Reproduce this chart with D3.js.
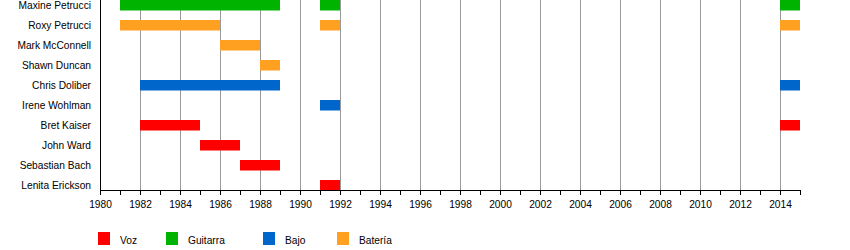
<!DOCTYPE html>
<html>
<head>
<meta charset="utf-8">
<script src="https://cdn.jsdelivr.net/npm/d3@7"></script>
<style>
  body { margin: 0; background: #fff; }
  svg { display: block; font-family: "Liberation Sans", Arial, sans-serif; }
</style>
</head>
<body>
<div id="chart"></div>
<script>
// members, top to bottom
const members = ["Maxine Petrucci", "Roxy Petrucci", "Mark McConnell", "Shawn Duncan",
  "Chris Doliber", "Irene Wohlman", "Bret Kaiser", "John Ward", "Sebastian Bach", "Lenita Erickson"];

// roles and their colours
const roles = ["Voz", "Guitarra", "Bajo", "Batería"];
const roleColors = ["#ff0000", "#00b300", "#0066cc", "#ffa020"];

// periods: [member, role, from, to]
const periods = [
  ["Maxine Petrucci", "Guitarra", 1981, 1989],
  ["Maxine Petrucci", "Guitarra", 1991, 1992],
  ["Maxine Petrucci", "Guitarra", 2014, 2015],
  ["Roxy Petrucci", "Batería", 1981, 1986],
  ["Roxy Petrucci", "Batería", 1991, 1992],
  ["Roxy Petrucci", "Batería", 2014, 2015],
  ["Mark McConnell", "Batería", 1986, 1988],
  ["Shawn Duncan", "Batería", 1988, 1989],
  ["Chris Doliber", "Bajo", 1982, 1989],
  ["Chris Doliber", "Bajo", 2014, 2015],
  ["Irene Wohlman", "Bajo", 1991, 1992],
  ["Bret Kaiser", "Voz", 1982, 1985],
  ["Bret Kaiser", "Voz", 2014, 2015],
  ["John Ward", "Voz", 1985, 1987],
  ["Sebastian Bach", "Voz", 1987, 1989],
  ["Lenita Erickson", "Voz", 1991, 1992]
];

const yearStart = 1980, yearEnd = 2015;

const width = 850, height = 250;
const left = 100, right = 800, axisY = 190;
const legendX = [98, 166, 263, 337];
const fontSize = 10.2;

const svg = d3.select("#chart").append("svg")
  .attr("width", width).attr("height", height);

const x = d3.scaleLinear().domain([yearStart, yearEnd]).range([left, right]);
const y = d3.scaleBand().domain(members).range([0, axisY]).paddingInner(0.5).paddingOuter(0);
const color = d3.scaleOrdinal().domain(roles).range(roleColors);

// vertical grid lines on even years
const gridYears = d3.range(yearStart + 2, yearEnd, 2);
svg.append("g").selectAll("line").data(gridYears).join("line")
  .attr("x1", d => x(d) + 0.5).attr("x2", d => x(d) + 0.5)
  .attr("y1", 0).attr("y2", axisY)
  .attr("stroke", "#999").attr("stroke-width", 1);

// bars
svg.append("g").selectAll("rect").data(periods).join("rect")
  .attr("x", d => x(d[2]))
  .attr("width", d => x(d[3]) - x(d[2]))
  .attr("y", d => y(d[0]))
  .attr("height", y.bandwidth() + 0.5)
  .attr("fill", d => color(d[1]));

// member names
svg.append("g").selectAll("text").data(members).join("text")
  .attr("x", left - 9)
  .attr("y", d => y(d) + y.bandwidth() / 2)
  .attr("dy", "0.38em")
  .attr("text-anchor", "end")
  .attr("font-size", fontSize)
  .attr("fill", "#000")
  .text(d => d);

// left axis line
svg.append("line")
  .attr("x1", left + 0.5).attr("x2", left + 0.5)
  .attr("y1", 0).attr("y2", axisY)
  .attr("stroke", "#000");

// bottom axis, a tick every year, labels on even years
const xAxis = d3.axisBottom(x)
  .tickValues(d3.range(yearStart, yearEnd + 1))
  .tickFormat(d => d % 2 === 0 ? String(d) : "")
  .tickSize(5)
  .tickSizeOuter(0)
  .tickPadding(6);

const ax = svg.append("g")
  .attr("transform", `translate(0,${axisY})`)
  .call(xAxis);
ax.selectAll("text").attr("font-size", fontSize).attr("font-family", "Liberation Sans, Arial, sans-serif").attr("fill", "#000");
ax.selectAll("line").attr("stroke", "#000");
ax.select(".domain").attr("stroke", "#000");

// legend
const legend = svg.append("g").selectAll("g").data(roles).join("g")
  .attr("transform", (d, i) => `translate(${legendX[i]},232)`);
legend.append("rect")
  .attr("width", 12).attr("height", 13)
  .attr("fill", d => color(d));
legend.append("text")
  .attr("x", 22).attr("y", 8).attr("dy", "0.35em")
  .attr("font-size", fontSize)
  .text(d => d);
</script>
</body>
</html>
